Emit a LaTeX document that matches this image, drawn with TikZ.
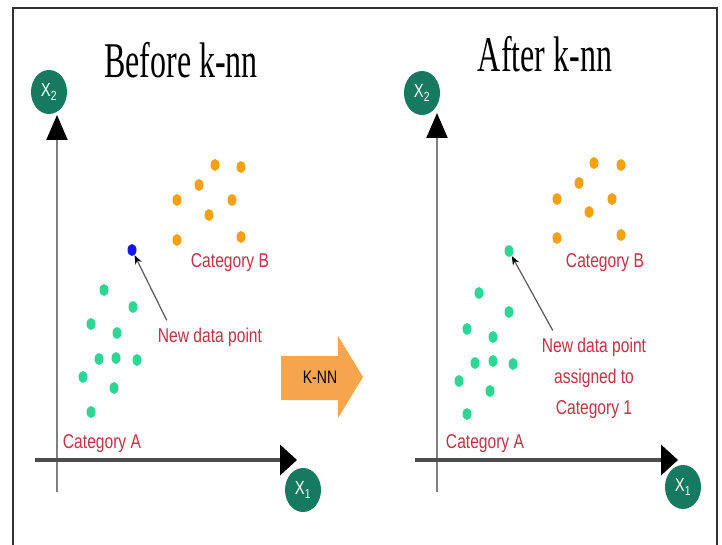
\documentclass[tikz,border=0pt]{standalone}
\usepackage{fontspec}
\setmainfont{Liberation Serif}
\newfontfamily\titlefont[FakeStretch=0.64]{Liberation Serif}
\newfontfamily\lblfont[FakeStretch=0.78]{Liberation Sans}
\usetikzlibrary{arrows.meta,shapes.geometric}
\definecolor{axisteal}{RGB}{22,122,96}
\definecolor{catgreen}{RGB}{46,214,150}
\definecolor{catorange}{RGB}{245,160,20}
\definecolor{catred}{RGB}{195,50,70}
\definecolor{knnorange}{RGB}{245,165,75}
\definecolor{newblue}{RGB}{20,20,240}
\begin{document}
\begin{tikzpicture}[x=1pt,y=-1pt,
    title/.style={font=\titlefont\fontsize{50}{50}\selectfont, anchor=base, inner sep=0pt},
    lbl/.style={font=\lblfont\fontsize{20}{31}\selectfont, text=catred, align=center, inner sep=0pt},
    axname/.style={ellipse, fill=axisteal, minimum width=36pt, minimum height=44pt, inner sep=0pt,
        text=white, font=\lblfont\fontsize{19}{19}\selectfont},
    dotA/.style={ellipse, fill=catgreen, minimum width=9pt, minimum height=12pt, inner sep=0pt},
    dotB/.style={dotA, fill=catorange},
    yaxis/.style={draw=gray, line width=2pt, -{Triangle[length=25pt,width=21pt,color=black]}},
    xaxis/.style={draw=black!70, line width=4pt, -{Triangle[length=17pt,width=30pt,color=black]}},
    pointer/.style={draw=black!65, line width=1.2pt, -{Stealth[length=9pt,width=7pt,color=black]}}]
    \useasboundingbox (0,0) rectangle (722,545);
    \fill[white] (0,0) rectangle (722,545);
    \draw[line width=2pt, black!80] (13,545) -- (13,8) -- (717,8) -- (717,545);

    \node[title] (before) at (181,78) {Before k-nn};
    \node[title] (after) at (545,72) {After k-nn};

    \coordinate (lyb) at (57,492);
    \coordinate (lyt) at (57,115);
    \coordinate (lxl) at (35,460);
    \coordinate (lxr) at (297,460);
    \draw[yaxis] (lyb) -- (lyt);
    \draw[xaxis] (lxl) -- (lxr);
    \node[axname] (lx2) at (49,92) {X\textsubscript{2}};
    \node[axname] (lx1) at (303,490) {X\textsubscript{1}};

    \node[dotA] (la1) at (104,290) {};
    \node[dotA] (la2) at (133,307) {};
    \node[dotA] (la3) at (91,324) {};
    \node[dotA] (la4) at (117,333) {};
    \node[dotA] (la5) at (99,359) {};
    \node[dotA] (la6) at (116,358) {};
    \node[dotA] (la7) at (137,360) {};
    \node[dotA] (la8) at (83,377) {};
    \node[dotA] (la9) at (114,388) {};
    \node[dotA] (la10) at (91,412) {};

    \node[dotB] (lb1) at (215,165) {};
    \node[dotB] (lb2) at (241,167) {};
    \node[dotB] (lb3) at (199,185) {};
    \node[dotB] (lb4) at (177,200) {};
    \node[dotB] (lb5) at (232,200) {};
    \node[dotB] (lb6) at (209,215) {};
    \node[dotB] (lb7) at (177,240) {};
    \node[dotB] (lb8) at (241,237) {};

    \node[dotA, fill=newblue] (lpt) at (132,250) {};
    \node[lbl, anchor=base] (lcatb) at (230,267) {Category B};
    \node[lbl, anchor=base] (lcata) at (102,448) {Category A};
    \node[lbl, anchor=base] (lnew) at (210,342) {New data point};
    \draw[pointer] ([xshift=9pt,yshift=7pt]lnew.north west) -- (lpt);

    \fill[knnorange] (281,356) -- (338,356) -- (338,336) -- (363,377) -- (338,418)
        -- (338,400) -- (281,400) -- cycle;
    \node[font=\lblfont\fontsize{18}{18}\selectfont, inner sep=0pt] (knn) at (320,377) {K-NN};

    \coordinate (ryb) at (437,492);
    \coordinate (ryt) at (437,113);
    \coordinate (rxl) at (415,460);
    \coordinate (rxr) at (678,460);
    \draw[yaxis] (ryb) -- (ryt);
    \draw[xaxis] (rxl) -- (rxr);
    \node[axname] (rx2) at (422,93) {X\textsubscript{2}};
    \node[axname] (rx1) at (683,487) {X\textsubscript{1}};

    \node[dotA] (ra1) at (479,293) {};
    \node[dotA] (ra2) at (509,312) {};
    \node[dotA] (ra3) at (467,329) {};
    \node[dotA] (ra4) at (493,337) {};
    \node[dotA] (ra5) at (475,363) {};
    \node[dotA] (ra6) at (493,361) {};
    \node[dotA] (ra7) at (513,364) {};
    \node[dotA] (ra8) at (459,381) {};
    \node[dotA] (ra9) at (490,391) {};
    \node[dotA] (ra10) at (467,414) {};

    \node[dotB] (rb1) at (594,163) {};
    \node[dotB] (rb2) at (621,165) {};
    \node[dotB] (rb3) at (579,183) {};
    \node[dotB] (rb4) at (557,199) {};
    \node[dotB] (rb5) at (612,199) {};
    \node[dotB] (rb6) at (589,212) {};
    \node[dotB] (rb7) at (557,238) {};
    \node[dotB] (rb8) at (621,235) {};

    \node[dotA] (rpt) at (509,251) {};
    \node[lbl, anchor=base] (rcatb) at (605,267) {Category B};
    \node[lbl, anchor=base] (rcata) at (485,448) {Category A};
    \node[lbl] (rnew) at (594,378) {New data point\\assigned to\\Category 1};
    \draw[pointer] ([xshift=11pt,yshift=7pt]rnew.north west) -- (rpt);
\end{tikzpicture}
\end{document}
